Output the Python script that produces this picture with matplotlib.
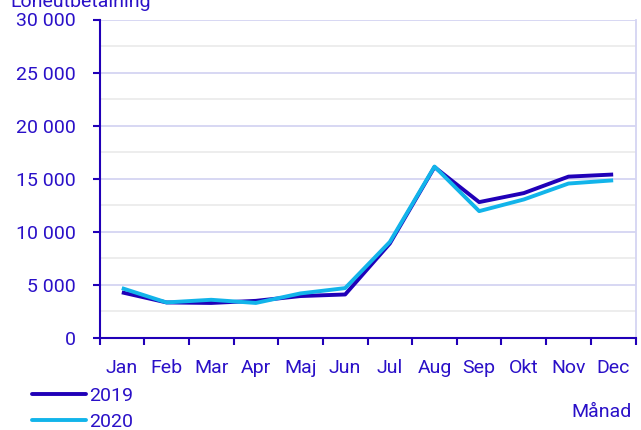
import numpy as np
import matplotlib.pyplot as plt
from matplotlib.lines import Line2D

plt.rcParams['font.family'] = ['Roboto', 'DejaVu Sans']

months = ['Jan', 'Feb', 'Mar', 'Apr', 'Maj', 'Jun', 'Jul', 'Aug', 'Sep', 'Okt', 'Nov', 'Dec']
y2019 = [4300, 3350, 3300, 3500, 3950, 4100, 8900, 16100, 12800, 13650, 15200, 15400]
y2020 = [4700, 3350, 3600, 3300, 4200, 4700, 9050, 16150, 11950, 13050, 14550, 14850]
yticks = [0, 5000, 10000, 15000, 20000, 25000, 30000]

dark = '#2000b8'
light = '#12b4ea'
text_col = '#2a10c8'
fs = 14

W, H = 641, 430
fig = plt.figure(figsize=(W / 100, H / 100), dpi=100)
ax = fig.add_axes([99.5 / W, 1 - 338 / H, 536 / W, 318.5 / H])

x = np.arange(len(months))
ax.plot(x, y2019, color=dark, lw=2.8, solid_capstyle='butt', zorder=3)
ax.plot(x, y2020, color=light, lw=2.8, solid_capstyle='butt', zorder=4)

ax.set_xlim(-0.5, len(months) - 0.5)
ax.set_ylim(0, 30000)

# gridlines: major every 5000, lighter ones halfway between
for v in yticks[1:]:
    ax.axhline(v, color='#d4d4f2', lw=1.3, zorder=1)
for v in np.arange(2500, 30000, 5000):
    ax.axhline(v, color='#ececec', lw=1.3, zorder=1)

ax.set_yticks(yticks)
ax.set_yticklabels([f'{v:,}'.replace(',', ' ') for v in yticks])
ax.set_xticks(x)
ax.set_xticklabels(months)
ax.set_xticks(np.arange(-0.5, len(months)), minor=True)
ax.tick_params(axis='x', which='major', length=0, pad=15, labelsize=fs, labelcolor=text_col)
ax.tick_params(axis='x', which='minor', length=5, width=1.5, color=dark)
ax.tick_params(axis='y', which='major', length=5, width=1.5, color=dark, pad=12,
               labelsize=fs, labelcolor=text_col)

for s in ['left', 'bottom']:
    ax.spines[s].set_color(dark)
    ax.spines[s].set_linewidth(1.5)
ax.spines['right'].set_color('#d4d4f2')
ax.spines['right'].set_linewidth(1.3)
ax.spines['top'].set_visible(False)

fig.text(10 / W, 1 - 7 / H, 'Löneutbetalning', fontsize=fs, color=text_col,
         ha='left', va='baseline')
fig.text(632 / W, 1 - 417 / H, 'Månad', fontsize=fs, color=text_col,
         ha='right', va='baseline')

# legend drawn by hand at the lower left
for i, (lab, col) in enumerate([('2019', dark), ('2020', light)]):
    yc = 394 + 26 * i
    fig.add_artist(Line2D([32 / W, 86 / W], [1 - yc / H, 1 - yc / H], color=col,
                          lw=2.8, solid_capstyle='round', transform=fig.transFigure))
    fig.text(89 / W, 1 - (yc + 7) / H, lab, fontsize=fs, color=text_col,
             ha='left', va='baseline')

fig.savefig('out.png', dpi=100)
